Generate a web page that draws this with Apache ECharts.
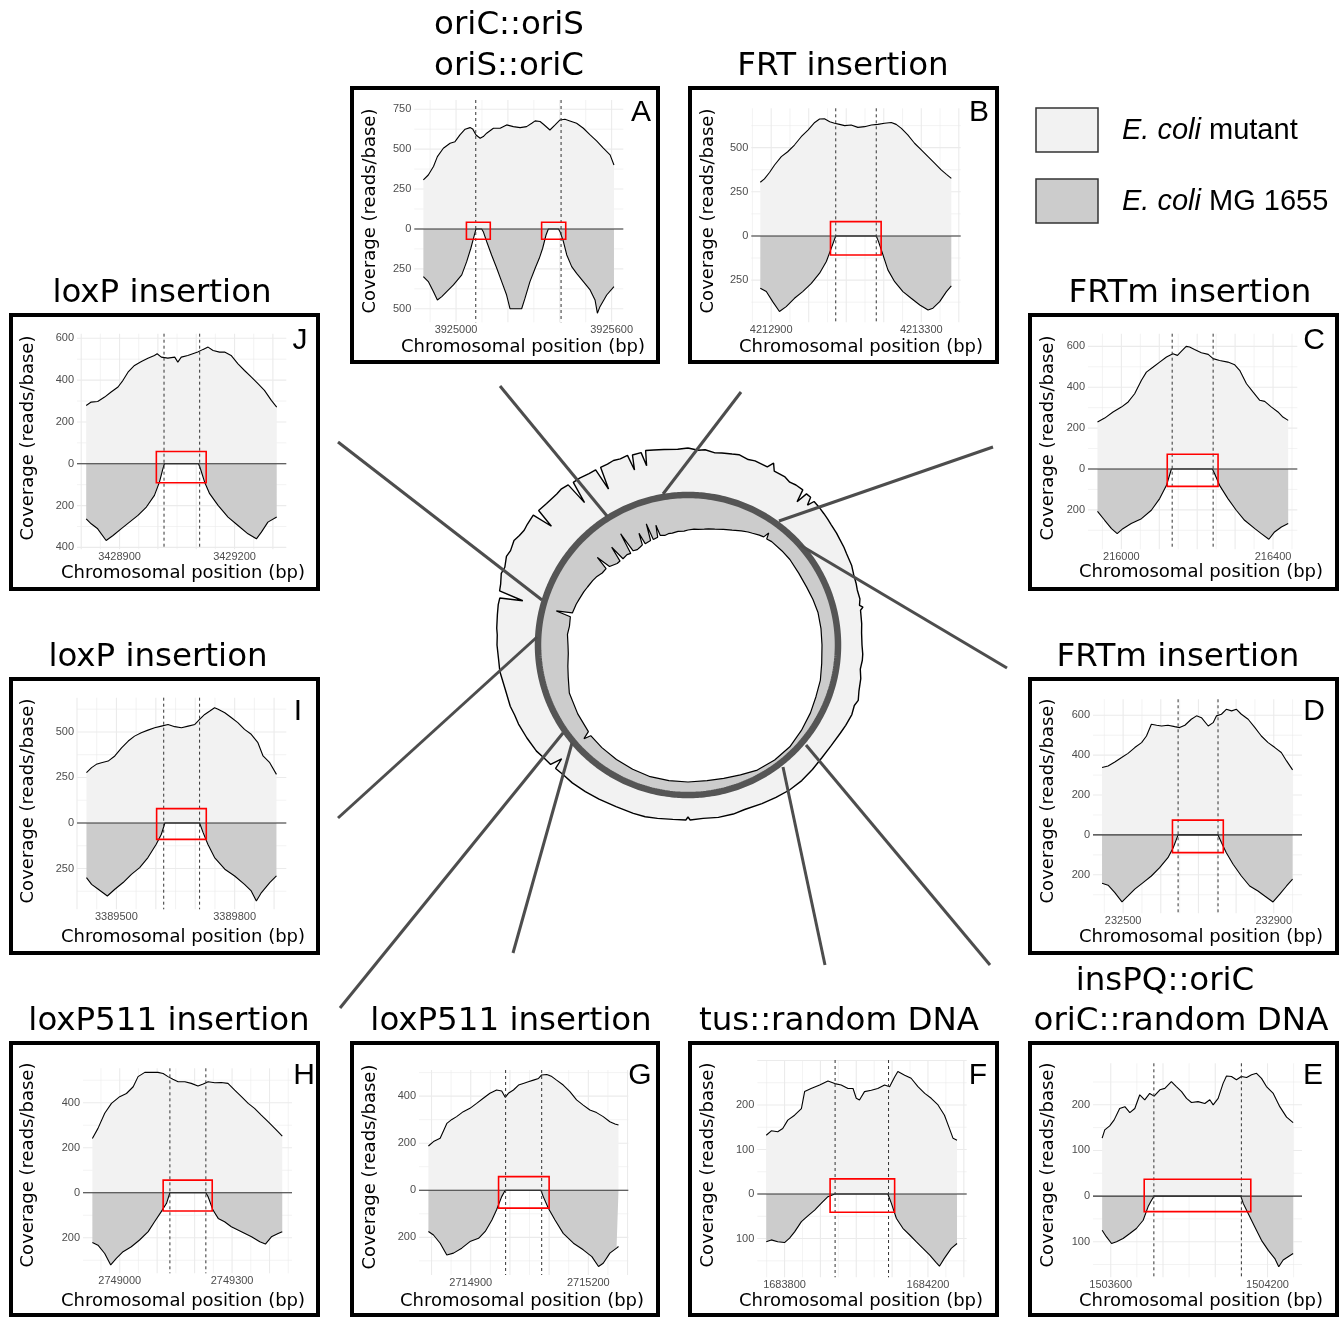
<!DOCTYPE html>
<html><head><meta charset="utf-8">
<script src="https://cdn.jsdelivr.net/npm/echarts@6/dist/echarts.min.js"></script>
<style>html,body{margin:0;padding:0;background:#fff}#c{width:1343px;height:1317px}</style>
</head><body><div id="c"></div>
<script>
// ---------------- DATA ----------------
const panelIds = ['A','B','C','D','E','F','G','H','I','J'];
const titles = {A:['oriC::oriS','oriS::oriC'],B:['FRT insertion'],C:['FRTm insertion'],D:['FRTm insertion'],
  E:['insPQ::oriC','oriC::random DNA'],F:['tus::random DNA'],G:['loxP511 insertion'],H:['loxP511 insertion'],
  I:['loxP insertion'],J:['loxP insertion']};
const legendLabels = [['E. coli',' mutant'],['E. coli',' MG 1655']];
const yTitle = 'Coverage (reads/base)';
const xTitle = 'Chromosomal position (bp)';

const xTicks = {A:[3925000,3925600],B:[4212900,4213300],C:[216000,216400],D:[232500,232900],E:[1503600,1504200],
  F:[1683800,1684200],G:[2714900,2715200],H:[2749000,2749300],I:[3389500,3389800],J:[3428900,3429200]};
const yTicks = {A:[750,500,250,0,-250,-500],B:[500,250,0,-250],C:[600,400,200,0,-200],D:[600,400,200,0,-200],
  E:[200,100,0,-100],F:[200,100,0,-100],G:[400,200,0,-200],H:[400,200,0,-200],I:[500,250,0,-250],J:[600,400,200,0,-200,-400]};

// coverage of the mutant (positive) and of MG1655 (mirrored, negative): [position bp, reads/base]
const mutA=[[3924874,307],[3924893,338],[3924913,391],[3924928,453],[3924951,506],[3924977,537],[3924996,547],[3925015,589],[3925035,625],[3925054,635],[3925064,627],[3925077,589],[3925093,568],[3925105,579],[3925118,600],[3925144,631],[3925170,631],[3925195,652],[3925221,641],[3925247,635],[3925272,641],[3925292,662],[3925305,677],[3925324,673],[3925337,656],[3925362,620],[3925382,652],[3925401,683],[3925420,687],[3925439,677],[3925465,662],[3925491,631],[3925517,589],[3925542,552],[3925568,506],[3925594,464],[3925609,401]];
const mgA=[[3924874,-299],[3924893,-330],[3924913,-393],[3924928,-445],[3924945,-424],[3924964,-393],[3924990,-351],[3925022,-288],[3925041,-205],[3925057,-121],[3925069,-48],[3925077,0],[3925099,0],[3925105,-17],[3925118,-79],[3925137,-163],[3925157,-246],[3925176,-330],[3925195,-414],[3925208,-500],[3925253,-500],[3925266,-434],[3925285,-330],[3925305,-246],[3925321,-184],[3925334,-121],[3925347,-38],[3925356,0],[3925395,0],[3925401,-17],[3925414,-79],[3925427,-163],[3925446,-236],[3925465,-278],[3925491,-330],[3925517,-382],[3925536,-445],[3925545,-528],[3925555,-487],[3925581,-414],[3925609,-361]];
const mutB=[[4212871,304],[4212882,323],[4212896,361],[4212909,402],[4212927,449],[4212944,477],[4212962,515],[4212980,562],[4212998,600],[4213016,643],[4213029,662],[4213042,664],[4213056,647],[4213069,638],[4213082,632],[4213096,625],[4213113,628],[4213131,615],[4213149,619],[4213167,628],[4213184,632],[4213202,638],[4213220,643],[4213233,632],[4213247,609],[4213264,572],[4213282,525],[4213300,487],[4213318,449],[4213336,411],[4213353,374],[4213367,349],[4213380,326]];
const mgB=[[4212871,-296],[4212887,-315],[4212904,-372],[4212922,-428],[4212940,-400],[4212962,-353],[4212984,-315],[4213007,-268],[4213029,-211],[4213047,-145],[4213060,-70],[4213072,0],[4213180,0],[4213186,-32],[4213198,-108],[4213211,-192],[4213229,-259],[4213251,-315],[4213273,-353],[4213296,-391],[4213318,-419],[4213331,-409],[4213349,-372],[4213367,-315],[4213380,-283]];
const mutC=[[215937,230],[215956,249],[215978,279],[216000,303],[216018,328],[216035,368],[216053,434],[216066,474],[216084,499],[216101,523],[216119,548],[216136,564],[216148,556],[216158,575],[216171,600],[216180,597],[216193,585],[216211,569],[216229,561],[216242,540],[216259,531],[216281,523],[216299,510],[216312,483],[216330,417],[216347,377],[216365,336],[216378,331],[216396,303],[216413,279],[216426,254],[216440,238]];
const mgC=[[215937,-207],[215956,-251],[215974,-292],[215989,-316],[216004,-292],[216026,-267],[216053,-243],[216079,-202],[216101,-145],[216119,-80],[216132,0],[216240,0],[216246,-23],[216259,-80],[216281,-145],[216303,-202],[216325,-251],[216352,-292],[216369,-316],[216389,-344],[216404,-308],[216422,-284],[216440,-267]];
const mutD=[[232444,338],[232460,346],[232478,366],[232496,388],[232513,409],[232531,438],[232549,463],[232562,496],[232575,555],[232589,550],[232602,546],[232619,550],[232637,543],[232650,538],[232664,550],[232681,580],[232695,597],[232708,588],[232726,546],[232739,563],[232748,597],[232761,605],[232774,630],[232788,622],[232801,630],[232814,605],[232832,580],[232850,538],[232867,496],[232885,463],[232903,438],[232920,413],[232934,371],[232950,326]];
const mgD=[[232444,-242],[232460,-252],[232478,-289],[232497,-336],[232513,-306],[232531,-272],[232553,-239],[232575,-206],[232597,-164],[232619,-114],[232633,-64],[232646,0],[232752,0],[232761,-38],[232774,-89],[232792,-147],[232814,-206],[232836,-256],[232858,-281],[232876,-306],[232898,-336],[232916,-297],[232934,-256],[232950,-222]];
const mutE=[[1503567,127],[1503577,145],[1503596,154],[1503613,167],[1503634,192],[1503654,196],[1503673,183],[1503692,192],[1503711,222],[1503730,211],[1503749,225],[1503766,219],[1503788,233],[1503807,236],[1503832,251],[1503851,240],[1503871,229],[1503890,214],[1503909,205],[1503934,207],[1503960,203],[1503979,211],[1503992,200],[1504011,214],[1504030,247],[1504043,263],[1504062,262],[1504081,255],[1504100,262],[1504120,260],[1504139,266],[1504158,269],[1504177,258],[1504196,240],[1504222,225],[1504247,196],[1504273,173],[1504298,161]];
const mgE=[[1503567,-75],[1503583,-89],[1503603,-104],[1503622,-100],[1503647,-93],[1503673,-82],[1503698,-71],[1503724,-53],[1503743,-23],[1503756,-9],[1503766,0],[1504098,0],[1504107,-16],[1504126,-38],[1504151,-67],[1504177,-97],[1504203,-119],[1504228,-137],[1504243,-155],[1504260,-140],[1504279,-133],[1504298,-126]];
const mutF=[[1683749,132],[1683763,142],[1683781,140],[1683795,147],[1683809,166],[1683828,177],[1683847,192],[1683856,230],[1683874,237],[1683898,245],[1683921,254],[1683940,248],[1683958,245],[1683977,237],[1683991,237],[1684000,215],[1684009,211],[1684023,230],[1684042,233],[1684060,237],[1684079,245],[1684093,241],[1684107,263],[1684116,275],[1684135,267],[1684153,260],[1684172,241],[1684191,226],[1684209,215],[1684228,200],[1684246,177],[1684260,147],[1684270,125],[1684281,121]];
const mgF=[[1683749,-107],[1683763,-103],[1683781,-107],[1683800,-109],[1683814,-99],[1683828,-85],[1683847,-62],[1683865,-49],[1683884,-36],[1683902,-21],[1683921,-6],[1683940,0],[1684088,0],[1684098,-21],[1684112,-55],[1684130,-77],[1684149,-92],[1684167,-107],[1684186,-122],[1684205,-137],[1684223,-154],[1684232,-162],[1684246,-144],[1684265,-122],[1684281,-111]];
const mutG=[[2714792,188],[2714805,207],[2714822,221],[2714839,284],[2714852,301],[2714864,313],[2714881,334],[2714898,348],[2714915,369],[2714932,391],[2714949,412],[2714966,426],[2714979,422],[2714988,395],[2714996,412],[2715009,426],[2715022,447],[2715034,454],[2715047,461],[2715060,468],[2715073,475],[2715081,490],[2715094,492],[2715107,483],[2715119,468],[2715136,447],[2715153,419],[2715170,384],[2715187,362],[2715204,341],[2715221,330],[2715238,313],[2715255,291],[2715268,282],[2715277,277]];
const mgG=[[2714792,-175],[2714805,-190],[2714822,-225],[2714839,-275],[2714856,-267],[2714877,-246],[2714898,-218],[2714920,-204],[2714937,-175],[2714954,-126],[2714966,-83],[2714979,-27],[2714988,0],[2715079,0],[2715085,-27],[2715098,-76],[2715115,-126],[2715136,-183],[2715162,-225],[2715187,-253],[2715209,-282],[2715226,-324],[2715238,-310],[2715255,-267],[2715272,-246],[2715277,-239]];
const mutH=[[2748927,241],[2748942,286],[2748960,353],[2748978,397],[2749000,427],[2749018,441],[2749036,471],[2749049,516],[2749067,535],[2749085,535],[2749102,535],[2749116,530],[2749129,516],[2749142,504],[2749156,493],[2749174,493],[2749191,486],[2749209,474],[2749223,483],[2749236,493],[2749254,489],[2749271,490],[2749289,486],[2749307,456],[2749325,427],[2749343,397],[2749360,375],[2749378,345],[2749396,316],[2749414,286],[2749427,264],[2749434,252]];
const mgH=[[2748927,-221],[2748942,-233],[2748960,-270],[2748976,-321],[2748991,-292],[2749009,-262],[2749031,-240],[2749053,-210],[2749076,-173],[2749093,-129],[2749111,-84],[2749125,-47],[2749134,0],[2749230,0],[2749236,-18],[2749249,-77],[2749263,-114],[2749280,-129],[2749298,-151],[2749325,-173],[2749352,-196],[2749374,-218],[2749389,-228],[2749405,-196],[2749423,-181],[2749434,-173]];
const mutI=[[3389424,276],[3389437,304],[3389449,322],[3389462,331],[3389479,340],[3389496,368],[3389513,413],[3389530,450],[3389546,477],[3389563,496],[3389580,510],[3389597,523],[3389614,532],[3389631,541],[3389648,529],[3389665,523],[3389682,532],[3389699,541],[3389711,569],[3389724,596],[3389737,615],[3389749,633],[3389758,624],[3389775,605],[3389792,578],[3389808,551],[3389825,514],[3389842,487],[3389859,441],[3389872,368],[3389889,331],[3389906,267]];
const mgI=[[3389424,-300],[3389437,-337],[3389454,-364],[3389477,-401],[3389496,-364],[3389517,-327],[3389538,-282],[3389559,-245],[3389580,-190],[3389601,-117],[3389614,-62],[3389623,0],[3389711,0],[3389720,-53],[3389732,-117],[3389749,-190],[3389775,-254],[3389800,-291],[3389825,-337],[3389842,-373],[3389855,-428],[3389868,-382],[3389889,-327],[3389906,-291]];
const mutJ=[[3428813,279],[3428826,295],[3428843,298],[3428861,319],[3428878,343],[3428896,367],[3428909,399],[3428922,438],[3428939,470],[3428957,489],[3428974,505],[3428991,518],[3428998,526],[3429009,510],[3429026,505],[3429044,510],[3429052,486],[3429061,510],[3429078,518],[3429091,526],[3429104,534],[3429118,547],[3429131,558],[3429144,542],[3429161,534],[3429174,534],[3429191,518],[3429209,478],[3429226,446],[3429244,414],[3429261,383],[3429278,351],[3429296,303],[3429310,271]];
const mgJ=[[3428813,-263],[3428826,-287],[3428843,-311],[3428865,-367],[3428883,-343],[3428904,-311],[3428926,-279],[3428948,-247],[3428970,-207],[3428991,-151],[3429004,-88],[3429013,-24],[3429017,0],[3429106,0],[3429111,-24],[3429122,-88],[3429135,-143],[3429157,-199],[3429183,-255],[3429209,-295],[3429235,-335],[3429257,-359],[3429270,-327],[3429287,-279],[3429310,-255]];
const mutData={A:mutA,B:mutB,C:mutC,D:mutD,E:mutE,F:mutF,G:mutG,H:mutH,I:mutI,J:mutJ};
const mgData={A:mgA,B:mgB,C:mgC,D:mgD,E:mgE,F:mgF,G:mgG,H:mgH,I:mgI,J:mgJ};

// insertion boundaries (dashed lines) and highlighted regions [x1, x2, y1, y2]
const dashPos={A:[3925076,3925405],B:[4213072,4213180],C:[216134,216242],D:[232646,232752],E:[1503765,1504100],
  F:[1683941,1684090],G:[2714989,2715081],H:[2749134,2749230],I:[3389620,3389711],J:[3429016,3429109]};
const redBoxes={A:[[3925040,3925132,-65,42],[3925330,3925423,-65,42]],B:[[4213058,4213193,-108,81]],C:[[216121,216255,-85,72]],
  D:[[232631,232766,-89,74]],E:[[1503728,1504136,-34,37]],F:[[1683927,1684107,-41,34]],G:[[2714971,2715100,-76,58]],
  H:[[2749116,2749247,-81,56]],I:[[3389602,3389728,-90,79]],J:[[3428996,3429126,-91,59]]};

// circular genome plot: [angle deg clockwise from top, coverage height] (mutant outward, MG1655 inward)
const ringMut=[[0,47],[3,45],[5,46],[8,44],[10,45],[13,46],[15,47],[18,45],[20,46],[24,45],[25.2,51],[26.4,44],[30,44],[32,42],[34,43],[36.5,43],[37.3,30],[38.1,42],[39.7,42],[40.5,34],[41.3,41],[44,40],[46,39],[48,38],[50,37],[53,36],[55,35],[58,34],[60,33],[64,32],[67,30],[70,29],[72,28],[75,28],[77,26],[77.8,29],[78.6,26],[83,25],[86,24],[90,24],[93,25],[95,25],[98,24],[101,26],[105,27],[108,29],[110,27],[113,28],[117,27],[120,26],[125,25],[130,25],[135,26],[140,27],[145,27],[150,26],[155,25],[161,24],[165,25],[170,25],[175,24],[179.3,25],[180,22],[180.7,25],[185,25],[190,26],[194,27],[198,27],[204,27],[210,28],[215,29],[220,30],[224,30],[227,31],[228,20],[229,32],[232,33],[235,35],[240,36],[245,37],[248,37],[251,38],[256,38],[262,40],[266,40],[270,41],[273,41],[275,42],[279,43],[282,44],[284,44],[285,21],[286,46],[288,47],[291,50],[293,49],[296,52],[298,51],[301,53],[303,51],[305,50],[307,51],[310,52],[311,31],[312,51],[315,50],[319,50],[321,51],[323.2,50],[324,26],[324.8,49],[327,49],[330,48],[332.2,48],[333,25],[333.8,48],[336,48],[338,49],[340,48],[342.3,49],[343,33],[343.7,48],[346.3,48],[347,34],[347.7,49],[350,48],[353,47],[357,46],[360,47]];
const ringMG=[[0,35],[3,34],[5,34],[8,33],[10,32],[13,31],[17,29],[21,27],[25,24],[28,22],[30,21],[33,19],[35,18],[35.8,12],[36.6,18],[39,17],[45,17],[50,17],[57,18],[64,18],[70,17],[76,16],[83,16],[90,16],[98,15],[105,13],[112,12],[119,10],[127,8],[135,6],[143,6],[151,7],[158,10],[165,12],[172,13],[180,13],[188,13],[196,13],[204,14],[212,15],[220,16],[227,17],[228,10],[229,18],[238,20],[248,22],[255,26],[260,28],[266,30],[270,30],[275,29],[279,30],[283.5,29],[284.5,14],[285.5,30],[290,31],[293,32],[297,33],[300,34],[304,35],[307,36],[310,38],[313,38],[314,24],[315,39],[319,42],[321,42],[322,26],[323,42],[326,41],[328,42],[328.8,20],[329.8,41],[332,42],[334,41],[335.5,40],[336.3,28],[337.1,40],[340.3,39],[341,22],[341.8,39],[344.3,38],[345,26],[345.8,37],[348,38],[350,37],[352,37],[355,36],[358,36],[360,35]];

// ---------------- LAYOUT ----------------
const LAYOUT={
 A:{box:[350,86,660,364],grid:[414.3,100,623.3,322.3],x:[3924839,3925645],y:[-585,808],xs:[200,100],ys:[250,125],letter:[641,113],ylab:[370,211],xlab:[523,347],title:[[509,26],[509,67]]},
 B:{box:[688,86,999,364],grid:[751.3,108.3,960.7,322.3],x:[4212847,4213405],y:[-489,723],xs:[100,50],ys:[250,125],letter:[979,113],ylab:[708,211],xlab:[861,347],title:[[843,67]]},
 C:{box:[1028,313,1339,591],grid:[1088,333.7,1297.3,549.3],x:[215912,216464],y:[-393,662],xs:[100,50],ys:[200,100],letter:[1314,341],ylab:[1048,438],xlab:[1201,572],title:[[1190,294]]},
 D:{box:[1028,677,1339,955],grid:[1093,699.3,1302,913.3],x:[232420,232975],y:[-393,680],xs:[100,50],ys:[200,100],letter:[1314,712],ylab:[1048,801],xlab:[1201,937],title:[[1178,658]]},
 E:{box:[1028,1041,1339,1317],grid:[1093,1063.3,1302,1277.3],x:[1503532,1504332],y:[-178,291],xs:[200,100],ys:[100,50],letter:[1313,1076],ylab:[1048,1165],xlab:[1201,1301],title:[[1165,982],[1181,1022]]},
 F:{box:[688,1041,999,1317],grid:[757.3,1060,966.7,1277.3],x:[1683724,1684308],y:[-187,301],xs:[100,50],ys:[100,50],letter:[978,1076],ylab:[708,1165],xlab:[861,1301],title:[[839,1022]]},
 G:{box:[350,1041,660,1317],grid:[419,1070,628.3,1275],x:[2714768,2715302],y:[-360,511],xs:[100,50],ys:[200,100],letter:[640,1076],ylab:[370,1167],xlab:[522,1301],title:[[511,1022]]},
 H:{box:[9,1041,320,1317],grid:[83,1068.3,292,1273.3],x:[2748902,2749460],y:[-358,553],xs:[100,50],ys:[200,100],letter:[304,1076],ylab:[28,1165],xlab:[183,1301],title:[[169,1022]]},
 I:{box:[9,677,320,955],grid:[77,697.7,286.3,909.3],x:[3389400,3389931],y:[-474,688],xs:[100,50],ys:[250,125],letter:[298,712],ylab:[28,801],xlab:[183,937],title:[[158,658]]},
 J:{box:[9,313,320,591],grid:[77,333.7,286.3,549.3],x:[3428789,3429335],y:[-409,622],xs:[100,50],ys:[200,100],letter:[300,341],ylab:[28,438],xlab:[183,573],title:[[162,294]]}
};
const RING_CENTER=[688,645], RING_R=150;
const LEADERS={A:[500,386,607,516],B:[741,392,663,494],C:[993,447,779,521],D:[1007,668,800,545],E:[990,965,806,745],
  F:[825,965,783,767],G:[513,953,572,743],H:[340,1008,563,733],I:[338,818,537,637],J:[338,442,542,600]};
const LEGEND={rects:[[1036,108,62,44],[1036,179,62,44]],text:[[1122,131],[1122,202]],fills:['#f2f2f2','#cccccc']};
const TICK_FONT='Liberation Sans', TITLE_FONT='DejaVu Sans';

// ---------------- BUILD ----------------
const chart = echarts.init(document.getElementById('c'), null, {renderer:'canvas', width:1343, height:1317});
const option = {animation:false, backgroundColor:'#ffffff', grid:[], xAxis:[], yAxis:[], series:[], graphic:[]};

function gridValues(min, max, major, minor, orient){
  const out=[];
  for(let k=Math.ceil(min/minor); k*minor<=max; k++){
    const v=k*minor; out.push([orient, v, (Math.abs(k) % Math.round(major/minor))===0 ? 1 : 0]);
  }
  return out;
}

panelIds.forEach((id,i)=>{
  const L=LAYOUT[id];
  const [gl,gt,gr,gb]=L.grid;
  option.grid.push({left:gl, top:gt, width:gr-gl, height:gb-gt, containLabel:false});
  const hid={axisLine:{show:false}, axisTick:{show:false}, splitLine:{show:false}, minorSplitLine:{show:false}};
  option.xAxis.push(Object.assign({gridIndex:i, type:'value', min:L.x[0], max:L.x[1],
    axisLabel:{customValues:xTicks[id], formatter:v=>String(v), color:'#4d4d4d', fontSize:11, fontFamily:TICK_FONT, margin:2}}, hid));
  option.yAxis.push(Object.assign({gridIndex:i, type:'value', min:L.y[0], max:L.y[1],
    axisLabel:{customValues:yTicks[id], formatter:v=>String(Math.abs(v)), color:'#4d4d4d', fontSize:11, fontFamily:TICK_FONT, margin:3}}, hid));

  const gdata = gridValues(L.x[0],L.x[1],L.xs[0],L.xs[1],0).concat(gridValues(L.y[0],L.y[1],L.ys[0],L.ys[1],1));
  option.series.push({type:'custom', xAxisIndex:i, yAxisIndex:i, z:1, silent:true, data:gdata,
    renderItem:(params,api)=>{
      const cs=params.coordSys, o=api.value(0), v=api.value(1), maj=api.value(2);
      let shape;
      if(o===0){const px=api.coord([v,0])[0]; shape={x1:px,y1:cs.y,x2:px,y2:cs.y+cs.height};}
      else {const py=api.coord([L.x[0],v])[1]; shape={x1:cs.x,y1:py,x2:cs.x+cs.width,y2:py};}
      return {type:'line', shape, style:{stroke:'#ebebeb', lineWidth: maj?1.1:0.6}};
    }});
  option.series.push({type:'line', name:'E. coli mutant', xAxisIndex:i, yAxisIndex:i, z:2, data:mutData[id], showSymbol:false,
    lineStyle:{color:'#000', width:1.1}, areaStyle:{color:'#f2f2f2', opacity:1}, silent:true});
  option.series.push({type:'line', name:'E. coli MG 1655', xAxisIndex:i, yAxisIndex:i, z:2, data:mgData[id], showSymbol:false,
    lineStyle:{color:'#000', width:1.1}, areaStyle:{color:'#cccccc', opacity:1}, silent:true});
  const odata=[[0,0,0,0,0]];
  dashPos[id].forEach(p=>odata.push([1,p,0,0,0]));
  redBoxes[id].forEach(b=>odata.push([2,b[0],b[1],b[2],b[3]]));
  option.series.push({type:'custom', xAxisIndex:i, yAxisIndex:i, z:5, silent:true, data:odata,
    renderItem:(params,api)=>{
      const cs=params.coordSys, k=api.value(0);
      if(k===0){const py=api.coord([L.x[0],0])[1];
        return {type:'line', shape:{x1:cs.x,y1:py,x2:cs.x+cs.width,y2:py}, style:{stroke:'#333', lineWidth:1.1}};}
      if(k===1){const px=api.coord([api.value(1),0])[0];
        return {type:'line', shape:{x1:px,y1:cs.y,x2:px,y2:cs.y+cs.height}, style:{stroke:'#333', lineWidth:1, lineDash:[3,3]}};}
      const p1=api.coord([api.value(1),api.value(4)]), p2=api.coord([api.value(2),api.value(3)]);
      return {type:'rect', shape:{x:p1[0],y:p1[1],width:p2[0]-p1[0],height:p2[1]-p1[1]}, style:{fill:'none', stroke:'#ff0000', lineWidth:1.6}};
    }});

  // decorations
  const [x1,y1,x2,y2]=L.box;
  option.graphic.push({type:'rect', z:10, silent:true, shape:{x:x1+2,y:y1+2,width:x2-x1-4,height:y2-y1-4}, style:{fill:'none', stroke:'#000', lineWidth:4}});
  L.title.forEach((t,k)=>option.graphic.push({type:'text', z:10, silent:true, x:t[0], y:t[1],
    style:{text:titles[id][k], fontSize:32.5, fontFamily:TITLE_FONT, fill:'#000', textAlign:'center', textVerticalAlign:'middle'}}));
  option.graphic.push({type:'text', z:10, silent:true, x:L.letter[0], y:L.letter[1],
    style:{text:id, fontSize:30, fontFamily:TICK_FONT, fill:'#000', textAlign:'center', textVerticalAlign:'middle'}});
  option.graphic.push({type:'text', z:10, silent:true, x:L.ylab[0], y:L.ylab[1], rotation:Math.PI/2,
    style:{text:yTitle, fontSize:18, fontFamily:TITLE_FONT, fill:'#000', textAlign:'center', textVerticalAlign:'middle'}});
  option.graphic.push({type:'text', z:10, silent:true, x:L.xlab[0], y:L.xlab[1],
    style:{text:xTitle, fontSize:18, fontFamily:TITLE_FONT, fill:'#000', textAlign:'center', textVerticalAlign:'middle'}});
  const ld=LEADERS[id];
  option.graphic.push({type:'line', z:50, silent:true, shape:{x1:ld[0],y1:ld[1],x2:ld[2],y2:ld[3]}, style:{stroke:'#4d4d4d', lineWidth:3}});
});

// circular plot
option.polar={center:RING_CENTER, radius:210};
const hidAx={axisLine:{show:false}, axisTick:{show:false}, axisLabel:{show:false}, splitLine:{show:false}};
option.angleAxis=Object.assign({type:'value', min:0, max:360, startAngle:90, clockwise:true}, hidAx);
option.radiusAxis=Object.assign({type:'value', min:0, max:210}, hidAx);
const baseCircle=[]; for(let a=0;a<=360;a+=1) baseCircle.push([RING_R,a]);
option.series.push({type:'line', coordinateSystem:'polar', z:1, silent:true, showSymbol:false,
  data:ringMut.map(d=>[RING_R+d[1], d[0]]), lineStyle:{color:'#000', width:1.4}, areaStyle:{color:'#f2f2f2', opacity:1}});
option.series.push({type:'line', coordinateSystem:'polar', z:2, silent:true, showSymbol:false,
  data:baseCircle, lineStyle:{color:'#555555', width:6.5}, areaStyle:{color:'#cccccc', opacity:1}});
option.series.push({type:'line', coordinateSystem:'polar', z:3, silent:true, showSymbol:false,
  data:ringMG.map(d=>[RING_R-d[1], d[0]]), lineStyle:{color:'#000', width:1.2}, areaStyle:{color:'#ffffff', opacity:1}});

// legend
LEGEND.rects.forEach((r,k)=>{
  option.graphic.push({type:'rect', z:10, silent:true, shape:{x:r[0],y:r[1],width:r[2],height:r[3]}, style:{fill:LEGEND.fills[k], stroke:'#333', lineWidth:1.5}});
  option.graphic.push({type:'text', z:10, silent:true, x:LEGEND.text[k][0], y:LEGEND.text[k][1],
    style:{text:'{i|'+legendLabels[k][0]+'}'+legendLabels[k][1], fontSize:29, fontFamily:TICK_FONT, fill:'#000', textVerticalAlign:'middle',
      rich:{i:{fontStyle:'italic', fontSize:29, fontFamily:TICK_FONT, fill:'#000'}}}});
});

chart.setOption(option);
</script></body></html>
